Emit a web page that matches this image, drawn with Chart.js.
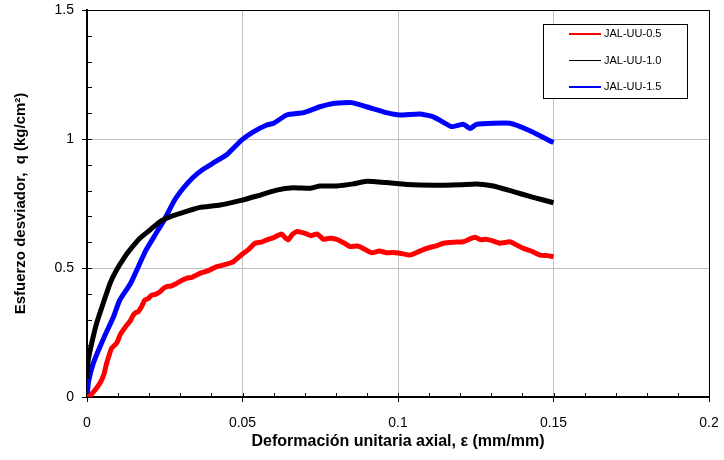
<!DOCTYPE html>
<html>
<head>
<meta charset="utf-8">
<script src="https://cdn.jsdelivr.net/npm/chart.js@4"></script>
<style>
  html, body { margin: 0; padding: 0; background: #fff; }
  #wrap { width: 724px; height: 460px; }
</style>
</head>
<body>
<div id="wrap"><canvas id="qCurves"></canvas></div>
<script>
// Deformación unitaria axial (mm/mm) vs esfuerzo desviador q (kg/cm2)
const strain05 = [0, 0.0004, 0.0015, 0.0026, 0.0037, 0.0047, 0.0055, 0.0058, 0.0063, 0.0072, 0.0079, 0.009, 0.0098, 0.0106, 0.0118, 0.0128, 0.0139, 0.0149, 0.0158, 0.0165, 0.0176, 0.0186, 0.0197, 0.0208, 0.022, 0.0235, 0.0245, 0.0256, 0.027, 0.0288, 0.0305, 0.032, 0.0337, 0.0353, 0.0363, 0.039, 0.0417, 0.044, 0.047, 0.0503, 0.052, 0.054, 0.056, 0.0578, 0.06, 0.0626, 0.0635, 0.0647, 0.066, 0.0674, 0.069, 0.0706, 0.072, 0.0739, 0.075, 0.076, 0.078, 0.0803, 0.0825, 0.0846, 0.087, 0.0888, 0.0915, 0.094, 0.0963, 0.098, 0.1006, 0.1039, 0.106, 0.1092, 0.112, 0.1146, 0.118, 0.121, 0.123, 0.1248, 0.1265, 0.1285, 0.1305, 0.1328, 0.136, 0.138, 0.1403, 0.143, 0.1457, 0.148, 0.15];
const stress05 = [0, 0, 0.012, 0.027, 0.045, 0.066, 0.09, 0.105, 0.13, 0.165, 0.189, 0.202, 0.215, 0.24, 0.262, 0.279, 0.295, 0.318, 0.328, 0.331, 0.352, 0.376, 0.382, 0.395, 0.398, 0.408, 0.42, 0.428, 0.43, 0.44, 0.452, 0.46, 0.464, 0.473, 0.479, 0.49, 0.505, 0.512, 0.524, 0.557, 0.572, 0.596, 0.6, 0.609, 0.618, 0.632, 0.62, 0.609, 0.63, 0.641, 0.638, 0.632, 0.625, 0.632, 0.622, 0.611, 0.615, 0.611, 0.598, 0.583, 0.585, 0.576, 0.559, 0.566, 0.559, 0.56, 0.557, 0.55, 0.56, 0.576, 0.585, 0.596, 0.6, 0.602, 0.612, 0.619, 0.61, 0.611, 0.605, 0.596, 0.602, 0.59, 0.576, 0.565, 0.55, 0.548, 0.544];

const strain10 = [0, 0.0004, 0.0015, 0.0031, 0.0052, 0.0074, 0.0095, 0.0122, 0.0138, 0.017, 0.0205, 0.0235, 0.027, 0.03, 0.0335, 0.0363, 0.0428, 0.0492, 0.0546, 0.061, 0.0663, 0.0717, 0.0749, 0.0803, 0.0856, 0.0899, 0.0963, 0.1028, 0.1114, 0.1199, 0.1253, 0.1307, 0.1371, 0.1435, 0.15];
const stress10 = [0.07, 0.143, 0.208, 0.286, 0.363, 0.44, 0.492, 0.544, 0.57, 0.615, 0.65, 0.68, 0.70, 0.712, 0.725, 0.735, 0.744, 0.761, 0.779, 0.802, 0.811, 0.809, 0.818, 0.818, 0.826, 0.836, 0.831, 0.824, 0.821, 0.823, 0.826, 0.818, 0.796, 0.774, 0.753];

const strain15 = [0, 0.0005, 0.002, 0.004, 0.006, 0.0085, 0.0105, 0.014, 0.0165, 0.019, 0.022, 0.025, 0.028, 0.031, 0.034, 0.037, 0.041, 0.045, 0.0497, 0.0535, 0.0578, 0.06, 0.0642, 0.0696, 0.0749, 0.0792, 0.0851, 0.0899, 0.0963, 0.1006, 0.107, 0.1114, 0.1172, 0.121, 0.1232, 0.1253, 0.136, 0.1424, 0.15];
const stress15 = [0, 0.06, 0.13, 0.19, 0.245, 0.31, 0.375, 0.44, 0.505, 0.57, 0.63, 0.69, 0.76, 0.81, 0.85, 0.88, 0.91, 0.94, 0.996, 1.028, 1.054, 1.061, 1.093, 1.102, 1.125, 1.138, 1.141, 1.125, 1.102, 1.093, 1.097, 1.086, 1.048, 1.057, 1.041, 1.057, 1.061, 1.032, 0.986];

const seriesNames = ['JAL-UU-0.5', 'JAL-UU-1.0', 'JAL-UU-1.5'];
const seriesColors = ['#ff0000', '#000000', '#0000ff'];

const xTicks = [0, 0.05, 0.1, 0.15, 0.2];
const yTicks = [0, 0.5, 1, 1.5];

const FONT = 'Arial, "Liberation Sans", sans-serif';

function toPoints(xs, ys) {
    return xs.map((x, i) => ({ x: x, y: ys[i] }));
}

function fmt(v) {
    return String(Math.round(v * 100) / 100);
}

// frame, inner tick marks and the boxed legend
const framePlugin = {
    id: 'frame',
    afterDraw(chart) {
        const ctx = chart.ctx;
        const area = chart.chartArea;
        const xs = chart.scales.x;
        const ys = chart.scales.y;
        ctx.save();

        // top and right edges
        ctx.strokeStyle = '#000';
        ctx.lineWidth = 1;
        ctx.beginPath();
        ctx.moveTo(area.left, area.top + 0.5);
        ctx.lineTo(area.right + 0.5, area.top + 0.5);
        ctx.lineTo(area.right + 0.5, area.bottom);
        ctx.stroke();

        // inward ticks every 0.01 on x and 0.1 on y
        ctx.beginPath();
        for (let i = 1; i < 20; i++) {
            const px = Math.round(xs.getPixelForValue(i / 100)) + 0.5;
            ctx.moveTo(px, area.bottom);
            ctx.lineTo(px, area.bottom - 4);
        }
        for (let i = 1; i < 15; i++) {
            const py = Math.round(ys.getPixelForValue(i / 10)) + 0.5;
            ctx.moveTo(area.left, py);
            ctx.lineTo(area.left + 5, py);
        }
        ctx.stroke();

        // legend
        const boxRight = area.right - 22;
        const boxLeft = boxRight - 144;
        const boxTop = area.top + 14;
        const boxH = 74;
        ctx.fillStyle = '#fff';
        ctx.fillRect(boxLeft, boxTop, 144, boxH);
        ctx.strokeStyle = '#000';
        ctx.lineWidth = 1;
        ctx.strokeRect(boxLeft + 0.5, boxTop + 0.5, 144, boxH);

        ctx.font = '11px ' + FONT;
        ctx.textBaseline = 'middle';
        ctx.textAlign = 'left';
        chart.data.datasets.forEach((ds, i) => {
            const y = boxTop + 10 + i * 26.5;
            ctx.strokeStyle = ds.borderColor;
            ctx.lineWidth = ds.legendLineWidth;
            ctx.beginPath();
            ctx.moveTo(boxLeft + 26, y);
            ctx.lineTo(boxLeft + 58, y);
            ctx.stroke();
            ctx.fillStyle = '#000';
            ctx.fillText(ds.label, boxLeft + 61, y);
        });
        ctx.restore();
    }
};

const ctx = document.getElementById('qCurves');

new Chart(ctx, {
    type: 'line',
    data: {
        datasets: [
            { label: seriesNames[0], data: toPoints(strain05, stress05), borderColor: seriesColors[0], legendLineWidth: 2 },
            { label: seriesNames[1], data: toPoints(strain10, stress10), borderColor: seriesColors[1], legendLineWidth: 1 },
            { label: seriesNames[2], data: toPoints(strain15, stress15), borderColor: seriesColors[2], legendLineWidth: 2 }
        ]
    },
    options: {
        responsive: true,
        maintainAspectRatio: false,
        animation: false,
        parsing: false,
        datasets: {
            line: {
                borderWidth: 5,
                pointRadius: 0,
                tension: 0.15,
                fill: false
            }
        },
        layout: {
            padding: { top: 10, right: 15, left: 0, bottom: 0 }
        },
        scales: {
            x: {
                type: 'linear',
                min: xTicks[0],
                max: xTicks[xTicks.length - 1],
                afterBuildTicks: (scale) => {
                    scale.ticks = xTicks.map(v => ({ value: v }));
                },
                afterFit: (scale) => {
                    scale.height = 63;
                    scale.paddingLeft = 0;
                    scale.paddingRight = 0;
                },
                grid: {
                    color: '#c0c0c0',
                    lineWidth: 1,
                    tickColor: '#000',
                    tickLength: 5
                },
                border: { color: '#000', width: 2 },
                ticks: {
                    color: '#000',
                    font: { family: FONT, size: 14 },
                    padding: 13,
                    maxRotation: 0,
                    callback: (value) => fmt(value)
                },
                title: {
                    display: true,
                    text: 'Deformación unitaria axial, ε (mm/mm)',
                    color: '#000',
                    font: { family: FONT, size: 16, weight: 'bold' },
                    padding: { top: 0, bottom: 9 }
                }
            },
            y: {
                type: 'linear',
                min: yTicks[0],
                max: yTicks[yTicks.length - 1],
                afterBuildTicks: (scale) => {
                    scale.ticks = yTicks.map(v => ({ value: v }));
                },
                afterFit: (scale) => {
                    scale.width = 87;
                    scale.paddingTop = 0;
                    scale.paddingBottom = 0;
                },
                grid: {
                    color: '#c0c0c0',
                    lineWidth: 1,
                    tickColor: '#000',
                    tickLength: 5
                },
                border: { color: '#000', width: 2 },
                ticks: {
                    color: '#000',
                    font: { family: FONT, size: 14 },
                    padding: 8,
                    callback: (value) => fmt(value)
                },
                title: {
                    display: true,
                    text: 'Esfuerzo desviador,  q (kg/cm²)',
                    color: '#000',
                    font: { family: FONT, size: 15, weight: 'bold' },
                    padding: { top: 12, bottom: 0 }
                }
            }
        },
        plugins: {
            legend: { display: false },
            tooltip: { enabled: false }
        }
    },
    plugins: [framePlugin]
});
</script>
</body>
</html>
